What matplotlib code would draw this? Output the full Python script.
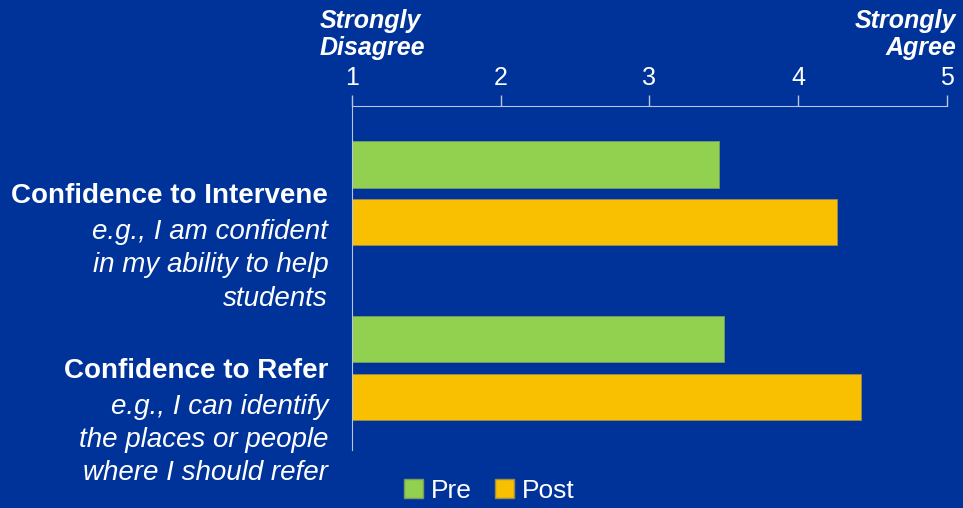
import matplotlib.pyplot as plt
import matplotlib.transforms as mtransforms
from matplotlib.patches import Patch

plt.rcParams['font.family'] = ['Liberation Sans', 'DejaVu Sans']

# data
categories = ["Confidence to Intervene", "Confidence to Refer"]
examples = [["e.g., I am confident", "in my ability to help", "students"],
            ["e.g., I can identify", "the places or people", "where I should refer"]]
pre = [3.47, 3.50]
post = [4.26, 4.42]
ticks = [1, 2, 3, 4, 5]

bg = '#00339A'
green = '#92D050'
yellow = '#F8C000'
axis_col = '#B8C4E0'

fig = plt.figure(figsize=(9.63, 5.08), dpi=100, facecolor=bg)
ax = fig.add_axes([0.3655, 0.114, 0.6179, 0.677])
ax.set_facecolor(bg)

ypos = list(range(len(categories)))
h = 0.264
off = 0.166
ax.barh([y - off for y in ypos], [v - 1 for v in pre], left=1, height=h,
        color=green, edgecolor='#7a9a60', linewidth=0.6, label='Pre')
ax.barh([y + off for y in ypos], [v - 1 for v in post], left=1, height=h,
        color=yellow, edgecolor='#9a8a50', linewidth=0.6, label='Post')

ax.set_xlim(1, 5)
ax.set_ylim(1.47, -0.50)
ax.xaxis.tick_top()
ax.set_xticks(ticks)
ax.tick_params(axis='x', colors=axis_col, direction='out', length=8, width=1,
               labelcolor='white', labelsize=18, pad=4)
ax.set_yticks([])
for s in ['right', 'bottom']:
    ax.spines[s].set_visible(False)
ax.spines['top'].set_color(axis_col)
ax.spines['left'].set_color(axis_col)

# category labels
trans = mtransforms.blended_transform_factory(ax.transAxes, ax.transData)
step = 0.19
for i, cat in enumerate(categories):
    ax.text(-0.04, i + 0.015, cat, transform=trans, ha='right', va='center',
            fontsize=20, fontweight='bold', color='white')
    for j, line in enumerate(examples[i]):
        ax.text(-0.04, i + 0.222 + j * step, line, transform=trans, ha='right',
                va='center', fontsize=20, fontstyle='italic', color='white')

# scale end labels
fig.text(0.332, 0.932, "Strongly\nDisagree", ha='left', va='center',
         fontsize=18, fontweight='bold', fontstyle='italic', color='white',
         linespacing=1.2)
fig.text(0.993, 0.932, "Strongly\nAgree", ha='right', va='center',
         fontsize=18, fontweight='bold', fontstyle='italic', color='white',
         linespacing=1.2, multialignment='right')

handles = [Patch(facecolor=green, edgecolor='#7a9a60'),
           Patch(facecolor=yellow, edgecolor='#9a8a50')]
fig.legend(handles, ['Pre', 'Post'], loc='center', bbox_to_anchor=(0.508, 0.034),
           ncol=2, frameon=False, fontsize=19, labelcolor='white',
           handlelength=0.7, handleheight=0.7, handletextpad=0.3, columnspacing=0.9)

fig.savefig('out.png', dpi=100, facecolor=bg)
